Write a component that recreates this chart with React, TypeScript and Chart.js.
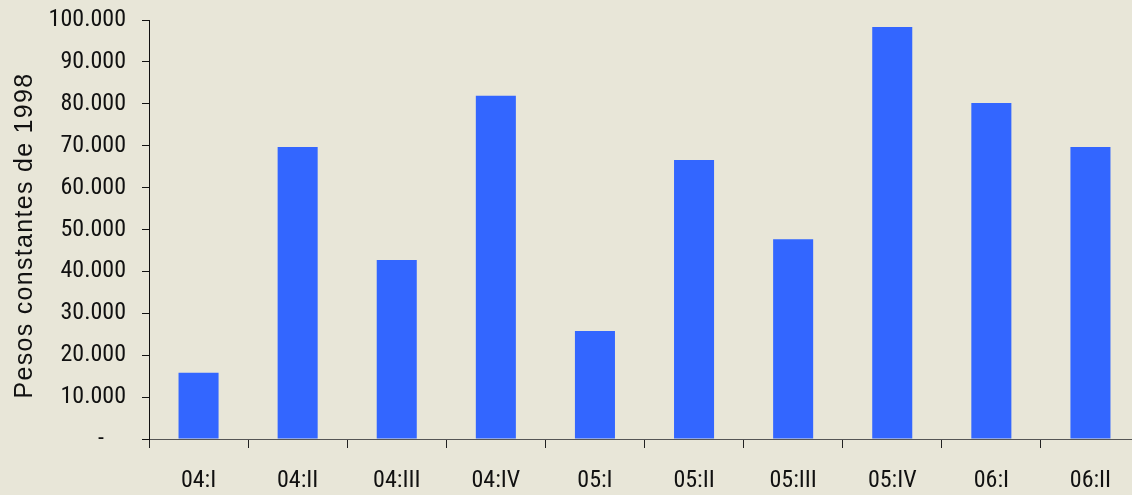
import React, { useEffect, useRef } from "react";
import { Chart, registerables } from "chart.js";

Chart.register(...registerables);

const categories = ["04:I", "04:II", "04:III", "04:IV", "05:I", "05:II", "05:III", "05:IV", "06:I", "06:II"];
const values = [15800, 69700, 42700, 81900, 25800, 66600, 47700, 98300, 80200, 69700];
const yTitle = "Pesos constantes de 1998";
const yMin = 0;
const yMax = 100000;
const yStep = 10000;

const BG = "#E8E6D8";
const BAR = "#3366FF";
const TICK_FONT = "'Roboto Condensed', 'DejaVu Sans Condensed', sans-serif";
const TITLE_FONT = "'Liberation Sans', Arial, sans-serif";

function fmt(v: number): string {
  if (v === 0) return "-    ";
  return String(Math.round(v)).replace(/\B(?=(\d{3})+(?!\d))/g, ".");
}

const titlePlugin = {
  id: "yTitlePlugin",
  afterDraw(chart: any) {
    const ctx = chart.ctx as CanvasRenderingContext2D;
    const area = chart.chartArea;
    ctx.save();
    ctx.translate(32, (area.top + area.bottom) / 2 + 6);
    ctx.rotate(-Math.PI / 2);
    ctx.font = `25px ${TITLE_FONT}`;
    (ctx as any).letterSpacing = "1.3px";
    ctx.fillStyle = "#111";
    ctx.textAlign = "center";
    ctx.textBaseline = "alphabetic";
    ctx.fillText(yTitle, 0, 0);
    ctx.restore();
  },
};

export default function App() {
  const ref = useRef<HTMLCanvasElement | null>(null);
  useEffect(() => {
    let chart: Chart | null = null;
    let cancelled = false;
    const make = () => {
      if (cancelled || !ref.current) return;
      chart = new Chart(ref.current, {
        type: "bar",
        data: {
          labels: categories,
          datasets: [
            {
              data: values,
              backgroundColor: BAR,
              borderWidth: 0,
              barPercentage: 0.404,
              categoryPercentage: 1,
            },
          ],
        },
        options: {
          animation: false,
          responsive: false,
          maintainAspectRatio: false,
          layout: { padding: { top: 20, right: 0, left: 0, bottom: 0 } },
          plugins: { legend: { display: false }, tooltip: { enabled: false } },
          scales: {
            x: {
              grid: { display: true, drawOnChartArea: false, offset: true, tickLength: 9, color: "#222", lineWidth: 1 },
              border: { display: true, color: "#555", width: 1 },
              ticks: { color: "#111", font: { family: TICK_FONT, size: 24 }, padding: 19, maxRotation: 0, autoSkip: false },
              afterFit: (s: any) => {
                s.height = 56;
              },
            },
            y: {
              min: yMin,
              max: yMax,
              grid: { display: true, drawOnChartArea: false, tickLength: 7, color: "#111", lineWidth: 1 },
              border: { display: true, color: "#111", width: 1 },
              ticks: {
                stepSize: yStep,
                color: "#111",
                font: { family: TICK_FONT, size: 24 },
                padding: 16,
                callback: (v: any) => fmt(Number(v)),
              },
              afterFit: (s: any) => {
                s.width = 149;
                s.paddingTop = 0;
                s.paddingBottom = 0;
              },
            },
          },
        },
        plugins: [titlePlugin],
      });
    };
    const fonts = (document as any).fonts;
    if (fonts && fonts.load) {
      Promise.all([
        fonts.load("24px 'Roboto Condensed'").catch(() => null),
        fonts.load("25px 'Liberation Sans'").catch(() => null),
      ]).then(make, make);
    } else {
      make();
    }
    return () => {
      cancelled = true;
      if (chart) chart.destroy();
    };
  }, []);
  return (
    <div
      style={{
        position: "fixed",
        left: 0,
        top: 0,
        width: 1132,
        height: 495,
        overflow: "hidden",
        background: BG,
      }}
    >
      <canvas ref={ref} width={1140} height={495} style={{ width: 1140, height: 495, display: "block", background: BG }} />
    </div>
  );
}
